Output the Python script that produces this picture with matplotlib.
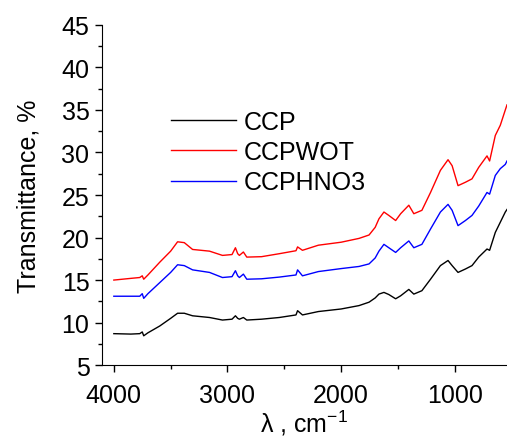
import matplotlib
matplotlib.use("Agg")
import matplotlib.pyplot as plt
from matplotlib.ticker import MultipleLocator

plt.rcParams['font.family'] = ['Liberation Sans', 'DejaVu Sans']
plt.rcParams['mathtext.fontset'] = 'custom'
plt.rcParams['mathtext.rm'] = 'Liberation Sans'
plt.rcParams['mathtext.default'] = 'regular'

# wavenumber grid, cm-1
wavenumber = [4000, 3850, 3772, 3750, 3737, 3700, 3596, 3500, 3439, 3380, 3307,
              3158, 3044, 2960, 2930, 2910, 2895, 2860, 2830, 2700, 2544, 2397,
              2383, 2340, 2200, 2000, 1842, 1754, 1700, 1667, 1623, 1580, 1520,
              1476, 1404, 1360, 1289, 1213, 1126, 1059, 1023, 971, 906, 848,
              789, 716, 693, 643, 599, 555, 540]

ccp = [8.7, 8.65, 8.7, 8.9, 8.45, 8.8, 9.6, 10.5, 11.1, 11.1, 10.8,
       10.6, 10.3, 10.4, 10.8, 10.5, 10.4, 10.6, 10.3, 10.4, 10.6, 10.9,
       11.4, 10.9, 11.3, 11.6, 12.0, 12.4, 12.9, 13.35, 13.55, 13.3, 12.8,
       13.15, 13.9, 13.35, 13.75, 15.1, 16.7, 17.3, 16.7, 15.9, 16.3, 16.7,
       17.7, 18.65, 18.5, 20.6, 21.8, 23.0, 23.3]

ccpwot = [15.0, 15.2, 15.3, 15.5, 15.1, 15.6, 17.1, 18.4, 19.5, 19.4, 18.6,
          18.4, 17.9, 18.0, 18.8, 18.1, 17.9, 18.3, 17.7, 17.75, 18.1, 18.45,
          18.9, 18.5, 19.1, 19.45, 19.9, 20.3, 21.2, 22.2, 23.0, 22.6, 22.0,
          22.8, 23.8, 22.8, 23.2, 25.3, 27.9, 29.15, 28.45, 26.1, 26.5, 26.9,
          28.25, 29.6, 29.0, 32.0, 33.2, 35.0, 35.6]

ccphno3 = [13.1, 13.1, 13.1, 13.4, 12.85, 13.4, 14.7, 15.9, 16.8, 16.7, 16.2,
           15.9, 15.3, 15.4, 16.1, 15.5, 15.3, 15.7, 15.1, 15.15, 15.35, 15.6,
           16.2, 15.5, 16.0, 16.35, 16.6, 16.9, 17.6, 18.4, 19.2, 18.8, 18.25,
           18.8, 19.6, 18.8, 19.2, 21.0, 23.0, 23.9, 23.2, 21.4, 22.0, 22.6,
           23.7, 25.3, 25.1, 27.3, 28.1, 28.6, 29.0]

series = [("CCP", ccp, "black"),
          ("CCPWOT", ccpwot, "red"),
          ("CCPHNO3", ccphno3, "blue")]

fig = plt.figure(figsize=(5.07, 4.39), dpi=100)
ax = fig.add_axes([0.201, 0.166, 0.799, 0.775])

for name, vals, col in series:
    ax.plot(wavenumber, vals, color=col, lw=1.0, label=name)

ax.set_xlim(4105, 540)
ax.set_ylim(5, 45)
ax.xaxis.set_major_locator(MultipleLocator(1000))
ax.xaxis.set_minor_locator(MultipleLocator(500))
ax.yaxis.set_major_locator(MultipleLocator(5))
ax.yaxis.set_minor_locator(MultipleLocator(2.5))

ax.spines['top'].set_visible(False)
ax.spines['right'].set_visible(False)
ax.tick_params(which='major', direction='out', length=5, width=1, labelsize=18)
ax.tick_params(which='minor', direction='out', length=3, width=1)
ax.tick_params(axis='y', which='major', pad=4)
ax.tick_params(axis='x', which='major', pad=8)

ax.set_ylabel('Transmittance, %', fontsize=18, labelpad=15)
ax.set_xlabel('λ , cm$^{-1}$', fontsize=18, labelpad=0.5)

ax.legend(loc='upper left', bbox_to_anchor=(0.17, 0.75), frameon=False,
          fontsize=18, handlelength=2.6, handletextpad=0.3,
          labelspacing=0.25, borderpad=0, borderaxespad=0)

fig.savefig("out.png", dpi=100)
